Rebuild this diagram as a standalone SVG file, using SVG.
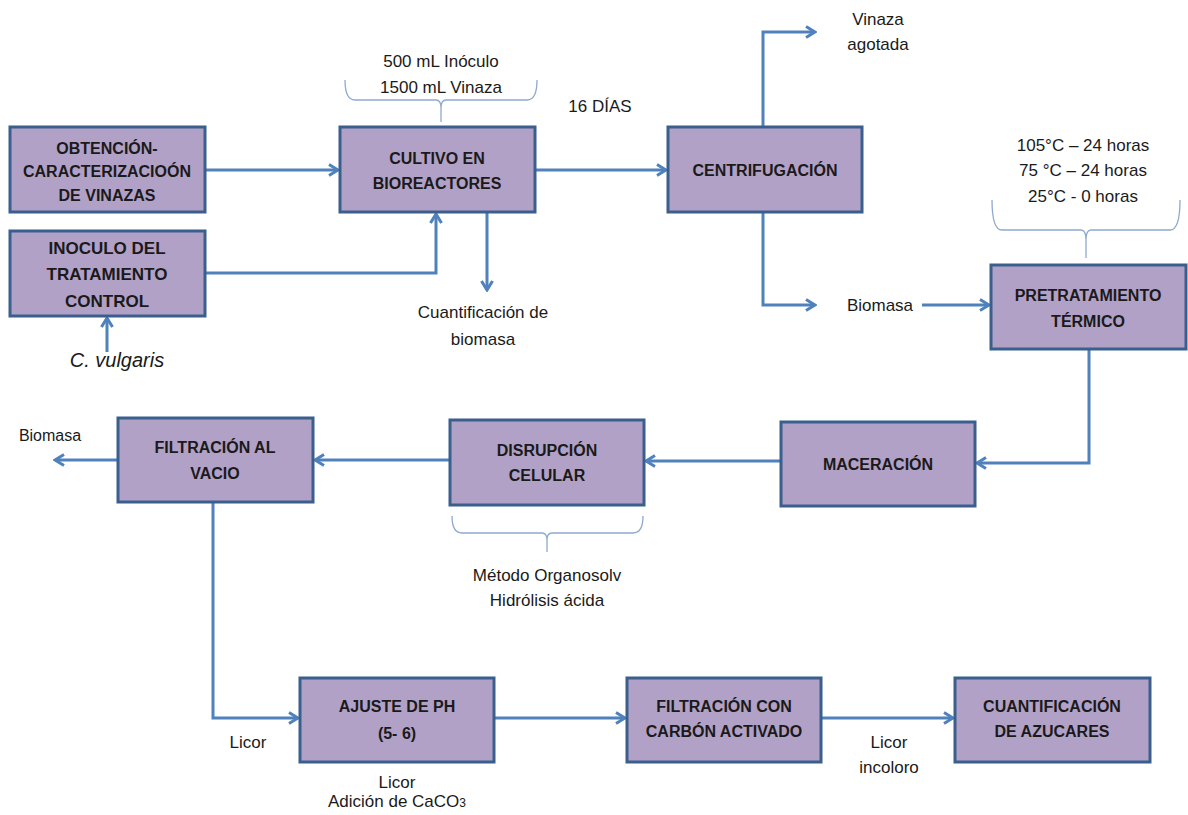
<svg xmlns="http://www.w3.org/2000/svg" width="1188" height="815" viewBox="0 0 1188 815">
<defs>
<marker id="ah" viewBox="0 0 14 14" refX="12" refY="7" markerWidth="14" markerHeight="14" markerUnits="userSpaceOnUse" orient="auto">
<path d="M3,1.5 L12,7 L3,12.5" fill="none" stroke="#4F81BD" stroke-width="3"/>
</marker>
<style>
.box{fill:#B2A1C7;stroke:#3A5F8C;stroke-width:3}
.lbl{font-family:"Liberation Sans",Arial,sans-serif;font-weight:bold;font-size:16px;fill:#1a1a1a;text-anchor:middle}
.txt{font-family:"Liberation Sans",Arial,sans-serif;font-size:17px;fill:#1a1a1a;text-anchor:middle}
.con{fill:none;stroke:#4F81BD;stroke-width:3;marker-end:url(#ah)}
.brace{fill:none;stroke:#8EA9CF;stroke-width:1.3}
</style>
</defs>
<rect width="1188" height="815" fill="#fff"/>
<g id="connectors">
<path class="con" d="M205,170 H338"/>
<path class="con" d="M205,273 H436 V214"/>
<path class="con" d="M487,212 V290"/>
<path class="con" d="M535,170 H666"/>
<path class="con" d="M763,127 V32 H815"/>
<path class="con" d="M763,212 V305 H815"/>
<path class="con" d="M922,305 H989"/>
<path class="con" d="M1089,349 V463 H977"/>
<path class="con" d="M781,461 H646"/>
<path class="con" d="M450,460 H315"/>
<path class="con" d="M118,460 H55"/>
<path class="con" d="M213,502 V718 H298"/>
<path class="con" d="M494,718 H625"/>
<path class="con" d="M821,718 H953"/>
<path class="con" d="M107,352 V318"/>
</g>
<g id="braces">
<path class="brace" d="M345,80 Q345,100 355,100 H436 Q441,100 441,108 V122 M441,108 Q441,100 446,100 H527 Q537,100 537,80"/>
<path class="brace" d="M992,200 Q992,230 1002,230 H1081 Q1086,230 1086,240 V258 M1086,240 Q1086,230 1091,230 H1170 Q1180,230 1180,200"/>
<path class="brace" d="M452,516 Q452,533 462,533 H542 Q547,533 547,540 V552 M547,540 Q547,533 552,533 H633 Q643,533 643,516"/>
</g>
<g id="n1"><rect class="box" x="10" y="127" width="195" height="85"/>
<text class="lbl" x="107" y="154">OBTENCIÓN-</text><text class="lbl" x="107" y="177">CARACTERIZACIOÓN</text><text class="lbl" x="107" y="201">DE VINAZAS</text></g>
<g id="n2"><rect class="box" x="10" y="231" width="195" height="85"/>
<text class="lbl" x="107" y="254" style="font-size:17px">INOCULO DEL</text><text class="lbl" x="107" y="280" style="font-size:17px">TRATAMIENTO</text><text class="lbl" x="107" y="307" style="font-size:17px">CONTROL</text></g>
<g id="n3"><rect class="box" x="340" y="127" width="195" height="85"/>
<text class="lbl" x="437" y="164">CULTIVO EN</text><text class="lbl" x="437" y="189">BIOREACTORES</text></g>
<g id="n4"><rect class="box" x="668" y="127" width="194" height="85"/>
<text class="lbl" x="765" y="176">CENTRIFUGACIÓN</text></g>
<g id="n5"><rect class="box" x="991" y="265" width="195" height="84"/>
<text class="lbl" x="1088" y="301">PRETRATAMIENTO</text><text class="lbl" x="1088" y="327">TÉRMICO</text></g>
<g id="n6"><rect class="box" x="781" y="422" width="194" height="84"/>
<text class="lbl" x="878" y="470">MACERACIÓN</text></g>
<g id="n7"><rect class="box" x="450" y="420" width="194" height="85"/>
<text class="lbl" x="547" y="456">DISRUPCIÓN</text><text class="lbl" x="547" y="481">CELULAR</text></g>
<g id="n8"><rect class="box" x="118" y="418" width="195" height="84"/>
<text class="lbl" x="215" y="453">FILTRACIÓN AL</text><text class="lbl" x="215" y="479">VACIO</text></g>
<g id="n9"><rect class="box" x="300" y="678" width="194" height="84"/>
<text class="lbl" x="397" y="712">AJUSTE DE PH</text><text class="lbl" x="397" y="739">(5- 6)</text></g>
<g id="n10"><rect class="box" x="627" y="678" width="194" height="84"/>
<text class="lbl" x="724" y="712">FILTRACIÓN CON</text><text class="lbl" x="724" y="737">CARBÓN ACTIVADO</text></g>
<g id="n11"><rect class="box" x="955" y="678" width="195" height="84"/>
<text class="lbl" x="1052" y="712">CUANTIFICACIÓN</text><text class="lbl" x="1052" y="737">DE AZUCARES</text></g>
<g id="labels">
<text class="txt" x="117" y="367" style="font-size:20px;font-style:italic">C. vulgaris</text>
<text class="txt" x="441" y="67">500 mL Inóculo</text>
<text class="txt" x="441" y="93">1500 mL Vinaza</text>
<text class="txt" x="600" y="112">16 DÍAS</text>
<text class="txt" x="483" y="318">Cuantificación de</text>
<text class="txt" x="483" y="345">biomasa</text>
<text class="txt" x="878" y="25">Vinaza</text>
<text class="txt" x="878" y="50">agotada</text>
<text class="txt" x="1083" y="151">105°C – 24 horas</text>
<text class="txt" x="1083" y="176">75 °C – 24 horas</text>
<text class="txt" x="1083" y="202">25°C  - 0 horas</text>
<text class="txt" x="880" y="311">Biomasa</text>
<text class="txt" x="50" y="441" style="font-size:16px">Biomasa</text>
<text class="txt" x="547" y="581">Método Organosolv</text>
<text class="txt" x="547" y="606">Hidrólisis  ácida</text>
<text class="txt" x="248" y="748">Licor</text>
<text class="txt" x="397" y="788">Licor</text>
<text class="txt" x="397" y="807">Adición de CaCO<tspan style="font-size:12px">3</tspan></text>
<text class="txt" x="889" y="748">Licor</text>
<text class="txt" x="889" y="773">incoloro</text>
</g>
</svg>
